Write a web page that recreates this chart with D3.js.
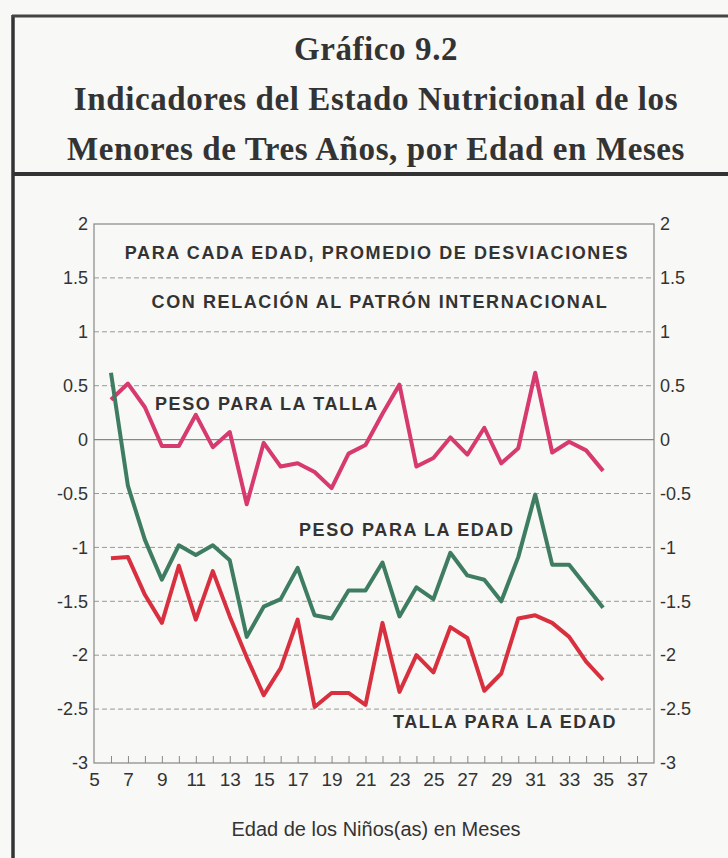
<!DOCTYPE html>
<html>
<head>
<meta charset="utf-8">
<script src="https://cdn.jsdelivr.net/npm/d3@7"></script>
<style>
  body { margin: 0; background: #f8f8f6; }
</style>
</head>
<body>
<div id="chart"></div>
<script>
// months of age
var months = d3.range(6, 36);

// average deviations from the international pattern
var pesoTalla = [0.37, 0.52, 0.30, -0.06, -0.06, 0.23, -0.07, 0.07, -0.60, -0.03,
                 -0.25, -0.22, -0.30, -0.45, -0.13, -0.05, 0.24, 0.51, -0.25, -0.17,
                 0.02, -0.14, 0.11, -0.22, -0.08, 0.62, -0.12, -0.02, -0.10, -0.29];
var pesoEdad = [0.62, -0.43, -0.93, -1.30, -0.98, -1.07, -0.98, -1.12, -1.83, -1.55,
                -1.48, -1.19, -1.63, -1.66, -1.40, -1.40, -1.14, -1.64, -1.37, -1.48,
                -1.05, -1.26, -1.30, -1.50, -1.09, -0.51, -1.16, -1.16, -1.36, -1.56];
var tallaEdad = [-1.10, -1.09, -1.44, -1.70, -1.17, -1.67, -1.22, -1.64, -2.02, -2.37,
                 -2.12, -1.67, -2.48, -2.35, -2.35, -2.46, -1.70, -2.34, -2.00, -2.16,
                 -1.74, -1.84, -2.33, -2.17, -1.66, -1.63, -1.70, -1.83, -2.06, -2.23];

var yTicks = [2, 1.5, 1, 0.5, 0, -0.5, -1, -1.5, -2, -2.5, -3];
var xTickLabels = d3.range(5, 38, 2);

var series = [
  {name: "PESO PARA LA TALLA", values: pesoTalla, color: "#d63a6e"},
  {name: "PESO PARA LA EDAD", values: pesoEdad, color: "#3f7d62"},
  {name: "TALLA PARA LA EDAD", values: tallaEdad, color: "#d9303f"}
];

var W = 728, H = 858;
var margin = {top: 224, right: 74, bottom: 95, left: 94},
    width = W - margin.left - margin.right,
    height = H - margin.top - margin.bottom;

var svg = d3.select("#chart")
  .append("svg")
    .attr("width", W)
    .attr("height", H);

// frame of the figure
svg.append("line").attr("x1", 13).attr("x2", 13).attr("y1", 15).attr("y2", H)
  .attr("stroke", "#333").attr("stroke-width", 3.5);
svg.append("line").attr("x1", 12).attr("x2", W).attr("y1", 16).attr("y2", 16)
  .attr("stroke", "#444").attr("stroke-width", 3);
svg.append("line").attr("x1", 12).attr("x2", W).attr("y1", 174).attr("y2", 174)
  .attr("stroke", "#333").attr("stroke-width", 4);

// title
var titleLines = ["Gráfico 9.2",
                  "Indicadores del Estado Nutricional de los",
                  "Menores de Tres Años, por Edad en Meses"];
svg.append("g").selectAll("text")
  .data(titleLines)
  .enter()
  .append("text")
    .attr("x", 376)
    .attr("y", function(d, i) { return 60 + i * 50; })
    .attr("text-anchor", "middle")
    .style("font-family", "'Liberation Serif', 'Times New Roman', serif")
    .style("font-weight", "bold")
    .style("font-size", "33px")
    .style("letter-spacing", "0.6px")
    .style("fill", "#333")
    .text(function(d) { return d; });

var g = svg.append("g")
  .attr("transform", "translate(" + margin.left + "," + margin.top + ")");

var x = d3.scaleLinear()
  .domain([5, 38])
  .range([0, width]);

var y = d3.scaleLinear()
  .domain([-3, 2])
  .range([height, 0]);

// gridlines
g.append("g")
  .selectAll("line")
  .data(yTicks.filter(function(d) { return d > -3 && d < 2; }))
  .enter()
  .append("line")
    .attr("x1", 0)
    .attr("x2", width)
    .attr("y1", function(d) { return y(d); })
    .attr("y2", function(d) { return y(d); })
    .attr("stroke", function(d) { return d === 0 ? "#888" : "#999"; })
    .attr("stroke-width", function(d) { return d === 0 ? 1.3 : 1; })
    .attr("stroke-dasharray", function(d) { return d === 0 ? null : "5,3"; });

// plot box
g.append("rect")
  .attr("width", width)
  .attr("height", height)
  .attr("fill", "none")
  .attr("stroke", "#888")
  .attr("stroke-width", 1.2);

// left and right axes (plain hyphen for minus, as in the original)
var axisFont = "'Liberation Sans', Arial, sans-serif";
var fmt = function(d) { return String(d); };

g.append("g")
  .call(d3.axisLeft(y).tickValues(yTicks).tickSize(0).tickPadding(6).tickFormat(fmt))
  .call(function(s) { s.select(".domain").remove(); })
  .selectAll("text")
    .style("font-family", axisFont)
    .style("font-size", "18px")
    .style("fill", "#333");

g.append("g")
  .attr("transform", "translate(" + width + ",0)")
  .call(d3.axisRight(y).tickValues(yTicks).tickSize(0).tickPadding(6).tickFormat(fmt))
  .call(function(s) { s.select(".domain").remove(); })
  .selectAll("text")
    .style("font-family", axisFont)
    .style("font-size", "18px")
    .style("fill", "#333");

// bottom axis: small ticks every month, labels every two
g.append("g")
  .attr("transform", "translate(0," + height + ")")
  .call(d3.axisBottom(x).tickValues(d3.range(6, 38)).tickSize(-7).tickFormat(""))
  .call(function(s) { s.select(".domain").remove(); })
  .selectAll("line")
    .attr("stroke", "#888");

g.append("g")
  .attr("transform", "translate(0," + height + ")")
  .call(d3.axisBottom(x).tickValues(xTickLabels).tickSize(0).tickPadding(10).tickFormat(fmt))
  .call(function(s) { s.select(".domain").remove(); })
  .selectAll("text")
    .style("font-family", "'Liberation Sans Narrow', 'Liberation Sans', Arial, sans-serif")
    .style("font-size", "19px")
    .style("fill", "#333");

// x axis title
svg.append("text")
  .attr("x", 376)
  .attr("y", 836)
  .attr("text-anchor", "middle")
  .style("font-family", "'Liberation Sans Narrow', 'Liberation Sans', Arial, sans-serif")
  .style("font-size", "20px")
  .style("fill", "#333")
  .text("Edad de los Niños(as) en Meses");

// lines
var line = d3.line()
  .x(function(d) { return x(d[0]); })
  .y(function(d) { return y(d[1]); });

g.append("g")
  .selectAll("path")
  .data(series)
  .enter()
  .append("path")
    .attr("d", function(s) { return line(months.map(function(m, i) { return [m, s.values[i]]; })); })
    .attr("fill", "none")
    .attr("stroke", function(s) { return s.color; })
    .attr("stroke-width", 4)
    .attr("stroke-linejoin", "round");

// annotations inside the plot
var notes = [
  {text: "PARA CADA EDAD, PROMEDIO DE DESVIACIONES", x: 377, y: 259, anchor: "middle"},
  {text: "CON RELACIÓN AL PATRÓN INTERNACIONAL", x: 380, y: 308, anchor: "middle"},
  {text: "PESO PARA LA TALLA", x: 155, y: 410, anchor: "start"},
  {text: "PESO PARA LA EDAD", x: 299, y: 536, anchor: "start"},
  {text: "TALLA PARA LA EDAD", x: 393, y: 728, anchor: "start"}
];

svg.append("g")
  .selectAll("text")
  .data(notes)
  .enter()
  .append("text")
    .attr("x", function(d) { return d.x; })
    .attr("y", function(d) { return d.y; })
    .attr("text-anchor", function(d) { return d.anchor; })
    .style("font-family", axisFont)
    .style("font-weight", "bold")
    .style("font-size", "18px")
    .style("letter-spacing", "1.6px")
    .style("fill", "#333")
    .text(function(d) { return d.text; });
</script>
</body>
</html>
